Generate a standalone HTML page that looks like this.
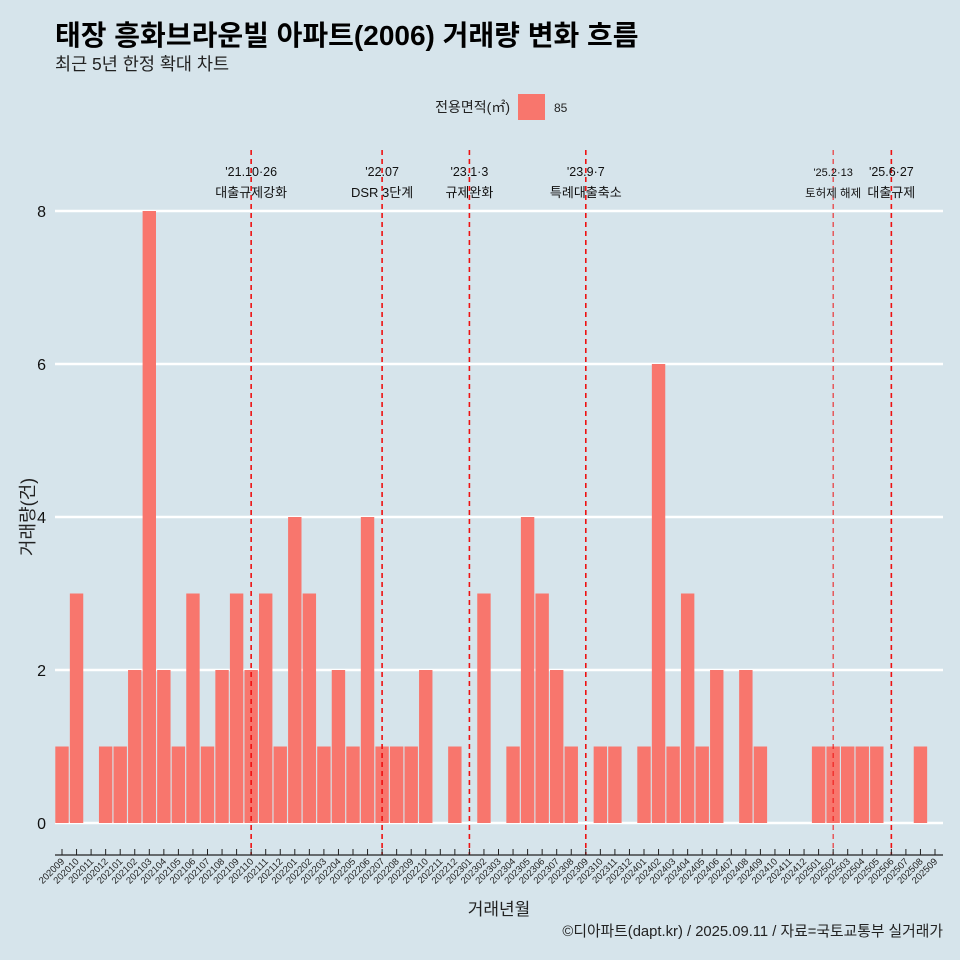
<!DOCTYPE html>
<html><head><meta charset="utf-8"><style>
body{margin:0;background:#d6e4eb;}
svg{display:block;font-family:"Liberation Sans","Noto Sans CJK KR",sans-serif;}
</style></head><body>
<svg id="c" width="960" height="960" viewBox="0 0 960 960">
<rect width="960" height="960" fill="#d6e4eb"/>
<text x="55" y="45" font-size="28" font-weight="bold" fill="#000">태장 흥화브라운빌 아파트(2006) 거래량 변화 흐름</text>
<text x="55" y="70" font-size="17.5" fill="#222">최근 5년 한정 확대 차트</text>
<g>
<text x="510" y="112" font-size="14" text-anchor="end" fill="#222">전용면적(㎡)</text>
<rect x="518" y="94" width="27" height="26" fill="#f8766d"/>
<text x="554" y="112" font-size="12" fill="#222">85</text>
</g>
<g id="grid"></g><g id="bars"></g><g id="vlines"></g><g id="xaxis"></g>
<text x="34" y="517" font-size="18" fill="#222" text-anchor="middle" transform="rotate(-90 34 517)">거래량(건)</text>
<text x="499" y="915" font-size="17" fill="#222" text-anchor="middle">거래년월</text>
<text x="943" y="936" font-size="14.8" fill="#222" text-anchor="end">©디아파트(dapt.kr) / 2025.09.11 / 자료=국토교통부 실거래가</text>
</svg>
<script>
const months=[];
for(let y=2020,m=9;!(y===2025&&m===10);){months.push(''+y+(m<10?'0':'')+m);m++;if(m>12){m=1;y++;}}
const counts=[1,3,0,1,1,2,8,2,1,3,1,2,3,2,3,1,4,3,1,2,1,4,1,1,1,2,0,1,0,3,0,1,4,3,2,1,0,1,1,0,1,6,1,3,1,2,0,2,1,0,0,0,1,1,1,1,1,0,0,1,0];
const yTicks=[0,2,4,6,8];
const events=[["202110","'21.10·26","대출규제강화",13],["202207","'22.07","DSR 3단계",13],["202301","'23.1·3","규제완화",13],["202309","'23.9·7","특례대출축소",13],["202502","'25.2·13","토허제 해제",11.5],["202506","'25.6·27","대출규제",13]];
const NS="http://www.w3.org/2000/svg";
const x0=62,step=14.55,bw=13.4;
const xs=i=>x0+step*i;
const ys=v=>823-v*76.5;
function mk(p,t,a){const e=document.createElementNS(NS,t);for(const k in a)e.setAttribute(k,a[k]);document.getElementById(p).appendChild(e);return e;}
yTicks.forEach(v=>{
 const l=mk('grid','line',{x1:55,x2:943,y1:ys(v),y2:ys(v),stroke:'#fff','stroke-width':2.4});
 
 
 const t=mk('grid','text',{x:46,y:ys(v)+6,'font-size':16,'text-anchor':'end',fill:'#111'});
 t.textContent=v;
 
 
});
counts.forEach((v,i)=>{
 if(v<=0)return;
 const r=mk('bars','rect',{x:xs(i)-bw/2,y:ys(v),width:bw,height:ys(0)-ys(v),fill:'#f8766d'});
 
 
});
mk('xaxis','line',{x1:55,x2:943,y1:855,y2:855,stroke:'#222','stroke-width':1.2});
months.forEach((m,i)=>{
 mk('xaxis','line',{x1:xs(i),x2:xs(i),y1:849,y2:855,stroke:'#222','stroke-width':1});
 const t=mk('xaxis','text',{x:xs(i)+3,y:862,'font-size':9.5,'text-anchor':'end',fill:'#222',transform:`rotate(-45 ${xs(i)+3} 862)`});
 t.textContent=m;
 
 
});
events.forEach(e=>{
 const i=months.indexOf(e[0]);const x=xs(i);
 const l=mk('vlines','line',{x1:x,x2:x,y1:150,y2:855,stroke:'#ee1111','stroke-width':e[3]<13?1:1.6,'stroke-dasharray':'5,4'});
 
 
 const t1=mk('vlines','text',{x:x,y:176,'font-size':e[3]-0.5,'text-anchor':'middle',fill:'#111'});
 t1.textContent=e[1];
 
 
 const t2=mk('vlines','text',{x:x,y:197,'font-size':e[3],'text-anchor':'middle',fill:'#111'});
 t2.textContent=e[2];
 
 
});
</script>
</body></html>
